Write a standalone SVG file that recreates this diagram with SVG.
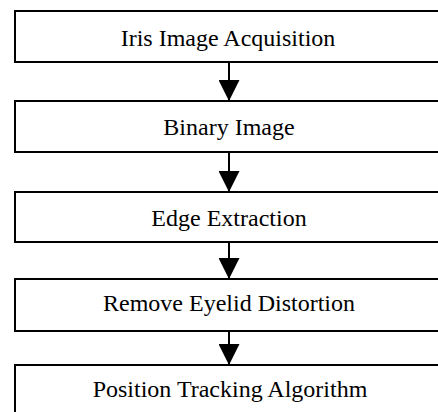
<svg xmlns="http://www.w3.org/2000/svg" width="438" height="412" viewBox="0 0 438 412">
  <style>
    .box { fill: #ffffff; stroke: #000000; stroke-width: 2; }
    .label { font-family: "Liberation Serif", "Times New Roman", serif; font-size: 24px; fill: #000000; text-anchor: middle; }
    .conn { stroke: #000000; stroke-width: 2; fill: none; }
  </style>
  <defs>
    <marker id="arrow" markerUnits="userSpaceOnUse" viewBox="0 0 21 21" refX="21" refY="10.5" markerWidth="21" markerHeight="21" orient="auto">
      <path d="M0,0 L21,10.5 L0,21 Z" fill="#000000"/>
    </marker>
  </defs>
  <rect width="438" height="412" fill="#ffffff"/>
  <g id="node-acquisition">
    <rect class="box" x="15" y="11" width="440" height="51"/>
    <text class="label" x="228" y="46">Iris Image Acquisition</text>
  </g>
  <g id="node-binary">
    <rect class="box" x="15" y="101" width="440" height="51"/>
    <text class="label" x="229" y="135">Binary Image</text>
  </g>
  <g id="node-edge">
    <rect class="box" x="15" y="192" width="440" height="50"/>
    <text class="label" x="229" y="226">Edge Extraction</text>
  </g>
  <g id="node-eyelid">
    <rect class="box" x="15" y="279" width="440" height="52"/>
    <text class="label" x="229" y="311">Remove Eyelid Distortion</text>
  </g>
  <g id="node-tracking">
    <rect class="box" x="15" y="365" width="440" height="60"/>
    <text class="label" x="230" y="397">Position Tracking Algorithm</text>
  </g>
  <g id="connectors">
    <line class="conn" x1="229" y1="62" x2="229" y2="101" marker-end="url(#arrow)"/>
    <line class="conn" x1="229" y1="152" x2="229" y2="192" marker-end="url(#arrow)"/>
    <line class="conn" x1="229" y1="242" x2="229" y2="279" marker-end="url(#arrow)"/>
    <line class="conn" x1="229" y1="331" x2="229" y2="365" marker-end="url(#arrow)"/>
  </g>
</svg>
